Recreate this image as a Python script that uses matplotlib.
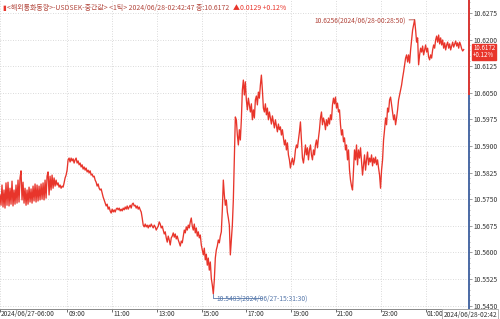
import pandas as pd
import matplotlib
matplotlib.use("Agg")
import matplotlib.pyplot as plt
from matplotlib.transforms import ScaledTranslation
from matplotlib.ticker import MultipleLocator, AutoMinorLocator, FormatStrFormatter

plt.rcParams['font.family'] = ['Noto Sans CJK KR', 'DejaVu Sans']

# USDSEK mid price, 1-tick chart sampled evenly from 06/27 06:00 to 06/28 02:42
price = [
    10.5762, 10.5733, 10.5790, 10.5728, 10.5776, 10.5725, 10.5796, 10.5733, 10.5798, 10.5731,
    10.5781, 10.5736, 10.5801, 10.5731, 10.5776, 10.5736, 10.5790, 10.5739, 10.5804, 10.5742,
    10.5810, 10.5830, 10.5748, 10.5798, 10.5739, 10.5781, 10.5733, 10.5776, 10.5736, 10.5784,
    10.5742, 10.5779, 10.5739, 10.5787, 10.5745, 10.5793, 10.5742, 10.5790, 10.5745, 10.5787,
    10.5748, 10.5793, 10.5750, 10.5796, 10.5748, 10.5804, 10.5753, 10.5815, 10.5827, 10.5762,
    10.5815, 10.5776, 10.5818, 10.5781, 10.5810, 10.5787, 10.5804, 10.5790, 10.5796, 10.5784,
    10.5790, 10.5781, 10.5787, 10.5784, 10.5796, 10.5810, 10.5818, 10.5832, 10.5861, 10.5866,
    10.5855, 10.5866, 10.5858, 10.5864, 10.5852, 10.5861, 10.5866, 10.5852, 10.5858, 10.5847,
    10.5852, 10.5841, 10.5847, 10.5835, 10.5841, 10.5832, 10.5838, 10.5827, 10.5832, 10.5824,
    10.5830, 10.5818, 10.5821, 10.5813, 10.5815, 10.5804, 10.5798, 10.5787, 10.5793, 10.5781,
    10.5776, 10.5779, 10.5767, 10.5756, 10.5748, 10.5739, 10.5731, 10.5736, 10.5722, 10.5728,
    10.5717, 10.5711, 10.5722, 10.5714, 10.5720, 10.5714, 10.5722, 10.5725, 10.5720, 10.5725,
    10.5717, 10.5722, 10.5717, 10.5725, 10.5720, 10.5728, 10.5722, 10.5731, 10.5722, 10.5728,
    10.5733, 10.5725, 10.5736, 10.5739, 10.5731, 10.5733, 10.5725, 10.5731, 10.5722, 10.5728,
    10.5720, 10.5714, 10.5697, 10.5677, 10.5672, 10.5680, 10.5672, 10.5677, 10.5669, 10.5677,
    10.5672, 10.5680, 10.5674, 10.5669, 10.5677, 10.5672, 10.5663, 10.5669, 10.5674, 10.5686,
    10.5680, 10.5669, 10.5674, 10.5663, 10.5652, 10.5658, 10.5641, 10.5629, 10.5646, 10.5635,
    10.5621, 10.5641, 10.5646, 10.5655, 10.5643, 10.5652, 10.5638, 10.5646, 10.5635, 10.5627,
    10.5618, 10.5632, 10.5627, 10.5646, 10.5663, 10.5655, 10.5672, 10.5663, 10.5677, 10.5669,
    10.5686, 10.5697, 10.5674, 10.5663, 10.5680, 10.5655, 10.5669, 10.5646, 10.5658, 10.5641,
    10.5649, 10.5621, 10.5607, 10.5593, 10.5612, 10.5579, 10.5595, 10.5564, 10.5584, 10.5550,
    10.5573, 10.5527, 10.5508, 10.5483, 10.5522, 10.5584, 10.5607, 10.5618, 10.5635, 10.5627,
    10.5646, 10.5658, 10.5720, 10.5804, 10.5762, 10.5733, 10.5748, 10.5714, 10.5697, 10.5677,
    10.5593, 10.5635, 10.5677, 10.5748, 10.5861, 10.5982, 10.5974, 10.5931, 10.5903, 10.5946,
    10.5917, 10.5974, 10.6058, 10.6086, 10.6044, 10.6081, 10.6030, 10.6002, 10.6035, 10.6016,
    10.5996, 10.6019, 10.5974, 10.6002, 10.5979, 10.6030, 10.6041, 10.6016, 10.6052, 10.6035,
    10.6072, 10.6100, 10.6058, 10.6007, 10.5996, 10.6019, 10.5988, 10.6007, 10.5974, 10.5996,
    10.5979, 10.5962, 10.5985, 10.5968, 10.5951, 10.5974, 10.5957, 10.5940, 10.5962, 10.5946,
    10.5954, 10.5931, 10.5946, 10.5923, 10.5903, 10.5917, 10.5889, 10.5909, 10.5875, 10.5861,
    10.5838, 10.5855, 10.5866, 10.5847, 10.5861, 10.5889, 10.5903, 10.5895, 10.5917, 10.5940,
    10.5968, 10.5917, 10.5866, 10.5852, 10.5875, 10.5903, 10.5875, 10.5895, 10.5861, 10.5889,
    10.5903, 10.5875, 10.5861, 10.5889, 10.5875, 10.5903, 10.5917, 10.5895, 10.5923, 10.5946,
    10.5979, 10.5996, 10.5960, 10.5979, 10.5968, 10.5946, 10.5974, 10.5957, 10.5979, 10.5962,
    10.5988, 10.5974, 10.6016, 10.6035, 10.6019, 10.6038, 10.6007, 10.6021, 10.5996, 10.6002,
    10.5960, 10.5931, 10.5946, 10.5912, 10.5923, 10.5889, 10.5903, 10.5861, 10.5889, 10.5832,
    10.5804, 10.5787, 10.5776, 10.5832, 10.5889, 10.5861, 10.5903, 10.5847, 10.5889, 10.5866,
    10.5895, 10.5855, 10.5818, 10.5847, 10.5875, 10.5832, 10.5861, 10.5883, 10.5847, 10.5866,
    10.5855, 10.5875, 10.5844, 10.5866, 10.5852, 10.5869, 10.5847, 10.5861, 10.5838, 10.5818,
    10.5781, 10.5832, 10.5861, 10.5917, 10.5946, 10.5979, 10.5960, 10.6007, 10.5996, 10.6030,
    10.6038, 10.6016, 10.5996, 10.5974, 10.5988, 10.5960, 10.5979, 10.6002, 10.6030, 10.6044,
    10.6058, 10.6072, 10.6092, 10.6109, 10.6129, 10.6148, 10.6157, 10.6137, 10.6157, 10.6134,
    10.6171, 10.6199, 10.6227, 10.6241, 10.6256, 10.6227, 10.6193, 10.6205, 10.6129, 10.6157,
    10.6176, 10.6165, 10.6182, 10.6157, 10.6171, 10.6185, 10.6165, 10.6176, 10.6151, 10.6143,
    10.6157, 10.6148, 10.6171, 10.6185, 10.6176, 10.6199, 10.6210, 10.6193, 10.6213, 10.6188,
    10.6205, 10.6185, 10.6199, 10.6176, 10.6191, 10.6171, 10.6185, 10.6193, 10.6176, 10.6188,
    10.6171, 10.6182, 10.6193, 10.6179, 10.6188, 10.6196, 10.6182, 10.6191, 10.6176, 10.6193,
    10.6185, 10.6174, 10.6168, 10.6172,
]

last_price = 10.6172
change = 0.0129
change_pct = "+0.12%"
high_label = "10.6256(2024/06/28-00:28:50)"
low_label = "10.5483(2024/06/27-15:31:30)"
title = "<해외통화동향>-USDSEK-중간값> <1틱> 2024/06/28-02:42:47 종:10.6172"

tick_times = ["2024-06-27 06:00", "2024-06-27 09:00", "2024-06-27 11:00", "2024-06-27 13:00",
              "2024-06-27 15:00", "2024-06-27 17:00", "2024-06-27 19:00", "2024-06-27 21:00",
              "2024-06-27 23:00", "2024-06-28 01:00"]
tick_labels = ["2024/06/27-06:00", "09:00", "11:00", "13:00", "15:00", "17:00",
               "19:00", "21:00", "23:00", "01:00"]

times = pd.date_range("2024-06-27 06:00", "2024-06-28 02:42", periods=len(price))
s = pd.Series(price, index=times)

red = "#e8352b"
blue = "#3d5f9e"
textred = "#b2463c"

fig = plt.figure(figsize=(5, 3.19), dpi=100)
ax = fig.add_axes([0.0, 10 / 319, 469 / 500, 309 / 319])

ax.plot(s.index, s.values, color=red, lw=0.95)

ax.set_xlim(pd.Timestamp("2024-06-27 06:00"), pd.Timestamp("2024-06-28 02:56:15"))
ax.set_ylim(10.54404, 10.63118)

# x axis
ax.set_xticks(pd.to_datetime(tick_times))
ax.set_xticklabels(tick_labels, ha="left", va="top")
ax.tick_params(axis="x", direction="out", length=2, width=0.6, pad=-1.4,
               labelsize=4.8, colors="#555555", labelcolor="#333333")
shift = ScaledTranslation(1.2 / 100, 0, fig.dpi_scale_trans)
for lab in ax.get_xticklabels():
    lab.set_transform(lab.get_transform() + shift)

# y axis on the right
ax.yaxis.tick_right()
ax.yaxis.set_major_locator(MultipleLocator(0.0075))
ax.yaxis.set_minor_locator(AutoMinorLocator(5))
ax.yaxis.set_major_formatter(FormatStrFormatter("%.4f"))
ax.tick_params(axis="y", which="major", direction="out", length=2, width=0.5, pad=1.5,
               labelsize=4.8, labelcolor="#333333", colors="#777777")
ax.tick_params(axis="y", which="minor", direction="out", length=1, width=0.4, colors="#777777")

ax.grid(True, which="major", color="#cfcfcf", lw=0.6, ls=(0, (1, 2)))

for side in ["top", "left", "right"]:
    ax.spines[side].set_visible(False)
ax.spines["bottom"].set_color("#888888")
ax.spines["bottom"].set_linewidth(0.7)

# right edge: red above previous close, blue below
base = last_price - change
ax.axvline(ax.get_xlim()[1], ymin=0, ymax=1, color=blue, lw=1.3, clip_on=False)
ax.plot([1, 1], [base, 10.63118], transform=ax.get_yaxis_transform(), color=red,
        lw=1.3, clip_on=False, solid_capstyle="butt")

# last price box
ax.annotate(f"{last_price:.4f}\n{change_pct}", xy=(1, last_price), xycoords=ax.get_yaxis_transform(),
            xytext=(3, -1.6), textcoords="offset points", ha="left", va="center",
            fontsize=4.4, color="white", linespacing=0.85,
            bbox=dict(boxstyle="square,pad=0.12", fc=red, ec=red))

# high / low labels
t_high = s.idxmax()
t_low = s.idxmin()
ax.annotate(high_label, xy=(t_high, s.max()), xytext=(-6, -0.5), textcoords="offset points",
            ha="right", va="center", fontsize=4.8, color=textred,
            arrowprops=dict(arrowstyle="-", color=textred, lw=0.6, shrinkA=0, shrinkB=0))
ax.annotate(low_label, xy=(t_low, s.min()), xytext=(2, -3.2), textcoords="offset points",
            ha="left", va="center", fontsize=4.8, color="#5577aa",
            arrowprops=dict(arrowstyle="-", color="#5577aa", lw=0.6, shrinkA=0, shrinkB=0,
                            connectionstyle="angle,angleA=0,angleB=90,rad=0"))

# header line
fig.text(0.004, 1 - 8 / 319, "▮", fontsize=4.8, color=red, va="center", ha="left")
fig.text(0.014, 1 - 8 / 319, title, fontsize=5.0, color=textred, va="center", ha="left")
fig.text(0.466, 1 - 8 / 319, f"▲{change:.4f} {change_pct}", fontsize=5.0, color=red,
         va="center", ha="left")

# current time label at the right of the time axis
fig.text(0.994, 4.5 / 319, "2024/06/28-02:42", fontsize=4.8, color="#333333",
         ha="right", va="center",
         bbox=dict(boxstyle="square,pad=0.2", fc="white", ec="#999999", lw=0.5))

fig.savefig("out.png", dpi=100)
